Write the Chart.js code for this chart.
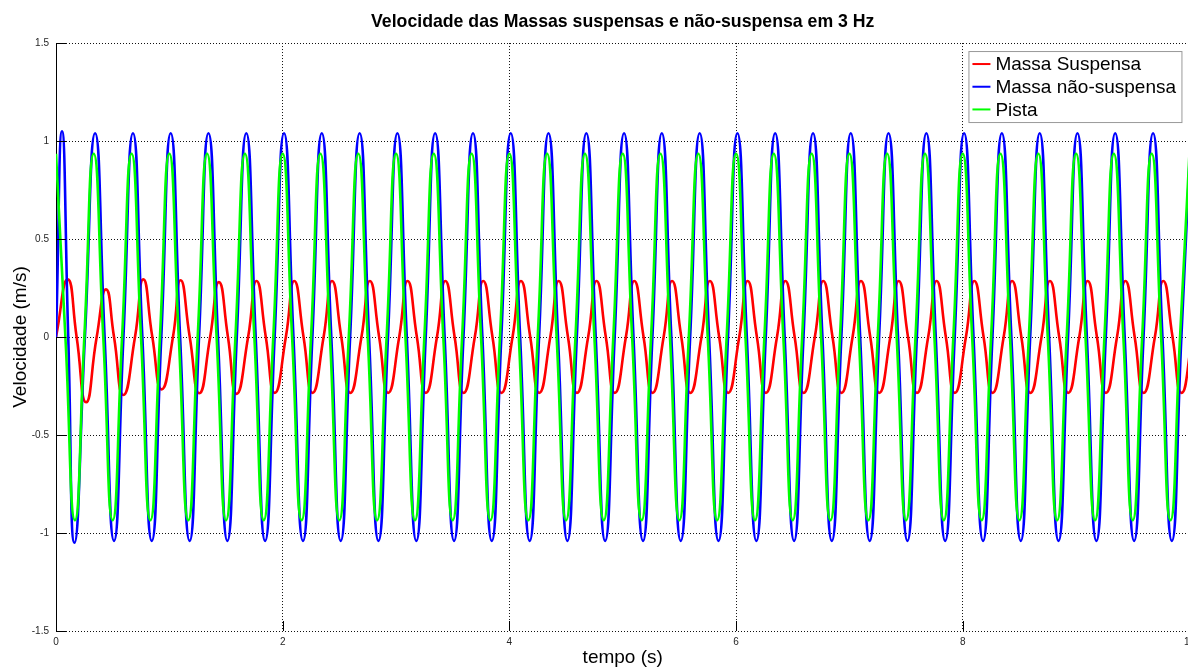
<!DOCTYPE html>
<html lang="pt">
<head>
  <meta charset="UTF-8" />
  <title>Velocidade das Massas</title>
  <script src="https://cdn.jsdelivr.net/npm/chart.js"></script>
  <style>
    html, body { margin: 0; padding: 0; background: #fff; overflow: hidden; }
  </style>
</head>
<body>
<canvas id="chart" width="1200" height="669"></canvas>

<script>
  // tempo (s) e velocidade (m/s): picos, vales e cruzamentos por zero
  const pistaT = [
    0, 0.083, 0.167, 0.25, 0.333, 0.417, 0.5, 0.583, 0.667, 0.75, 0.833, 0.917,
    1, 1.083, 1.167, 1.25, 1.333, 1.417, 1.5, 1.583, 1.667, 1.75, 1.833, 1.917,
    2, 2.083, 2.167, 2.25, 2.333, 2.417, 2.5, 2.583, 2.667, 2.75, 2.833, 2.917,
    3, 3.083, 3.167, 3.25, 3.333, 3.417, 3.5, 3.583, 3.667, 3.75, 3.833, 3.917,
    4, 4.083, 4.167, 4.25, 4.333, 4.417, 4.5, 4.583, 4.667, 4.75, 4.833, 4.917,
    5, 5.083, 5.167, 5.25, 5.333, 5.417, 5.5, 5.583, 5.667, 5.75, 5.833, 5.917,
    6, 6.083, 6.167, 6.25, 6.333, 6.417, 6.5, 6.583, 6.667, 6.75, 6.833, 6.917,
    7, 7.083, 7.167, 7.25, 7.333, 7.417, 7.5, 7.583, 7.667, 7.75, 7.833, 7.917,
    8, 8.083, 8.167, 8.25, 8.333, 8.417, 8.5, 8.583, 8.667, 8.75, 8.833, 8.917,
    9, 9.083, 9.167, 9.25, 9.333, 9.417, 9.5, 9.583, 9.667, 9.75, 9.833, 9.917,
    10
  ];
  const pistaV = [
    0.935, 0, -0.935, 0, 0.935, 0, -0.935, 0, 0.935, 0, -0.935, 0,
    0.935, 0, -0.935, 0, 0.935, 0, -0.935, 0, 0.935, 0, -0.935, 0,
    0.935, 0, -0.935, 0, 0.935, 0, -0.935, 0, 0.935, 0, -0.935, 0,
    0.935, 0, -0.935, 0, 0.935, 0, -0.935, 0, 0.935, 0, -0.935, 0,
    0.935, 0, -0.935, 0, 0.935, 0, -0.935, 0, 0.935, 0, -0.935, 0,
    0.935, 0, -0.935, 0, 0.935, 0, -0.935, 0, 0.935, 0, -0.935, 0,
    0.935, 0, -0.935, 0, 0.935, 0, -0.935, 0, 0.935, 0, -0.935, 0,
    0.935, 0, -0.935, 0, 0.935, 0, -0.935, 0, 0.935, 0, -0.935, 0,
    0.935, 0, -0.935, 0, 0.935, 0, -0.935, 0, 0.935, 0, -0.935, 0,
    0.935, 0, -0.935, 0, 0.935, 0, -0.935, 0, 0.935, 0, -0.935, 0,
    0.935
  ];

  const naoSuspT = [
    0, 0.053, 0.108, 0.163, 0.255, 0.345, 0.429, 0.512, 0.595, 0.679, 0.762, 0.845, 0.929,
    1.012, 1.095, 1.179, 1.262, 1.345, 1.429, 1.512, 1.595, 1.679, 1.762, 1.845, 1.929,
    2.012, 2.095, 2.179, 2.262, 2.345, 2.429, 2.512, 2.595, 2.679, 2.762, 2.845, 2.929,
    3.012, 3.095, 3.179, 3.262, 3.345, 3.429, 3.512, 3.595, 3.679, 3.762, 3.845, 3.929,
    4.012, 4.095, 4.179, 4.262, 4.345, 4.429, 4.512, 4.595, 4.679, 4.762, 4.845, 4.929,
    5.012, 5.095, 5.179, 5.262, 5.345, 5.429, 5.512, 5.595, 5.679, 5.762, 5.845, 5.929,
    6.012, 6.095, 6.179, 6.262, 6.345, 6.429, 6.512, 6.595, 6.679, 6.762, 6.845, 6.929,
    7.012, 7.095, 7.179, 7.262, 7.345, 7.429, 7.512, 7.595, 7.679, 7.762, 7.845, 7.929,
    8.012, 8.095, 8.179, 8.262, 8.345, 8.429, 8.512, 8.595, 8.679, 8.762, 8.845, 8.929,
    9.012, 9.095, 9.179, 9.262, 9.345, 9.429, 9.512, 9.595, 9.679, 9.762, 9.845, 9.929,
    10.012
  ];
  const naoSuspV = [
    0, 1.05, 0, -1.05, 0, 1.04, 0, -1.04, 0, 1.04, 0, -1.04, 0,
    1.04, 0, -1.04, 0, 1.04, 0, -1.04, 0, 1.04, 0, -1.04, 0,
    1.04, 0, -1.04, 0, 1.04, 0, -1.04, 0, 1.04, 0, -1.04, 0,
    1.04, 0, -1.04, 0, 1.04, 0, -1.04, 0, 1.04, 0, -1.04, 0,
    1.04, 0, -1.04, 0, 1.04, 0, -1.04, 0, 1.04, 0, -1.04, 0,
    1.04, 0, -1.04, 0, 1.04, 0, -1.04, 0, 1.04, 0, -1.04, 0,
    1.04, 0, -1.04, 0, 1.04, 0, -1.04, 0, 1.04, 0, -1.04, 0,
    1.04, 0, -1.04, 0, 1.04, 0, -1.04, 0, 1.04, 0, -1.04, 0,
    1.04, 0, -1.04, 0, 1.04, 0, -1.04, 0, 1.04, 0, -1.04, 0,
    1.04, 0, -1.04, 0, 1.04, 0, -1.04, 0, 1.04, 0, -1.04, 0,
    1.04
  ];

  const suspT = [
    0, 0.103, 0.182, 0.265, 0.359, 0.441, 0.512, 0.594, 0.697, 0.77, 0.85, 0.932,
    1.032, 1.099, 1.18, 1.264, 1.36, 1.437, 1.517, 1.593, 1.695, 1.769, 1.851, 1.93,
    2.028, 2.102, 2.184, 2.263, 2.361, 2.435, 2.517, 2.596, 2.695, 2.769, 2.851, 2.93,
    3.028, 3.102, 3.184, 3.263, 3.361, 3.435, 3.517, 3.596, 3.695, 3.769, 3.851, 3.93,
    4.028, 4.102, 4.184, 4.263, 4.361, 4.435, 4.517, 4.596, 4.695, 4.769, 4.851, 4.93,
    5.028, 5.102, 5.184, 5.263, 5.361, 5.435, 5.517, 5.596, 5.695, 5.769, 5.851, 5.93,
    6.028, 6.102, 6.184, 6.263, 6.361, 6.435, 6.517, 6.596, 6.695, 6.769, 6.851, 6.93,
    7.028, 7.102, 7.184, 7.263, 7.361, 7.435, 7.517, 7.596, 7.695, 7.769, 7.851, 7.93,
    8.028, 8.102, 8.184, 8.263, 8.361, 8.435, 8.517, 8.596, 8.695, 8.769, 8.851, 8.93,
    9.028, 9.102, 9.184, 9.263, 9.361, 9.435, 9.517, 9.596, 9.695, 9.769, 9.851, 9.93,
    10.028
  ];
  const suspV = [
    0, 0.294, 0, -0.333, 0, 0.243, 0, -0.296, 0, 0.294, 0, -0.267,
    0, 0.29, 0, -0.287, 0, 0.28, 0, -0.29, 0, 0.286, 0, -0.285,
    0, 0.286, 0, -0.285, 0, 0.286, 0, -0.285, 0, 0.286, 0, -0.285,
    0, 0.286, 0, -0.285, 0, 0.286, 0, -0.285, 0, 0.286, 0, -0.285,
    0, 0.286, 0, -0.285, 0, 0.286, 0, -0.285, 0, 0.286, 0, -0.285,
    0, 0.286, 0, -0.285, 0, 0.286, 0, -0.285, 0, 0.286, 0, -0.285,
    0, 0.286, 0, -0.285, 0, 0.286, 0, -0.285, 0, 0.286, 0, -0.285,
    0, 0.286, 0, -0.285, 0, 0.286, 0, -0.285, 0, 0.286, 0, -0.285,
    0, 0.286, 0, -0.285, 0, 0.286, 0, -0.285, 0, 0.286, 0, -0.285,
    0, 0.286, 0, -0.285, 0, 0.286, 0, -0.285, 0, 0.286, 0, -0.285,
    0
  ];

  const seriesNames = ['Massa Suspensa', 'Massa não-suspensa', 'Pista'];
  const seriesColors = ['#ff0000', '#0000ff', '#00ff00'];

  const FONT = "'Liberation Sans', Arial, Helvetica, sans-serif";

  function pts(ts, vs) {
    return ts.map((t, i) => ({ x: t, y: vs[i] }));
  }

  // inner tick marks (octave style) + legend box inside the plot
  const decor = {
    id: 'decor',
    afterDatasetsDraw(chart) {
      const ctx = chart.ctx;
      const area = chart.chartArea;
      const xs = chart.scales.x, ys = chart.scales.y;
      ctx.save();
      ctx.strokeStyle = '#000';
      ctx.lineWidth = 1;
      ctx.beginPath();
      ys.ticks.forEach(tk => {
        const y = Math.round(ys.getPixelForValue(tk.value)) + 0.5;
        ctx.moveTo(area.left, y);
        ctx.lineTo(area.left + 10, y);
      });
      xs.ticks.forEach(tk => {
        const x = Math.round(xs.getPixelForValue(tk.value)) + 0.5;
        ctx.moveTo(x, area.bottom);
        ctx.lineTo(x, area.bottom - 10);
      });
      ctx.stroke();

      // legend
      const bw = 213, bh = 71;
      const bx = area.right - 8 - bw, by = area.top + 8;
      ctx.fillStyle = '#fff';
      ctx.fillRect(bx, by, bw, bh);
      ctx.strokeStyle = '#999';
      ctx.strokeRect(bx + 0.5, by + 0.5, bw, bh);
      ctx.font = '19px ' + FONT;
      ctx.textBaseline = 'middle';
      ctx.textAlign = 'left';
      seriesNames.forEach((name, i) => {
        const cy = by + 13 + i * 22.7;
        ctx.strokeStyle = seriesColors[i];
        ctx.lineWidth = 2;
        ctx.beginPath();
        ctx.moveTo(bx + 4, cy);
        ctx.lineTo(bx + 22, cy);
        ctx.stroke();
        ctx.fillStyle = '#000';
        ctx.fillText(name, bx + 27, cy + 1);
      });
      ctx.restore();
    }
  };

  new Chart(document.getElementById('chart'), {
    type: 'line',
    data: {
      datasets: [
        { label: seriesNames[0], data: pts(suspT, suspV), borderColor: seriesColors[0], order: 3 },
        { label: seriesNames[1], data: pts(naoSuspT, naoSuspV), borderColor: seriesColors[1], order: 2 },
        { label: seriesNames[2], data: pts(pistaT, pistaV), borderColor: seriesColors[2], order: 1 }
      ]
    },
    options: {
      responsive: false,
      animation: false,
      layout: { padding: { right: 10 } },
      elements: {
        point: { radius: 0 },
        line: { borderWidth: 2.6, tension: 0.55, fill: false }
      },
      plugins: {
        legend: { display: false },
        tooltip: { enabled: false },
        title: {
          display: true,
          fullSize: false,
          text: 'Velocidade das Massas suspensas e não-suspensa em 3 Hz',
          color: '#000',
          font: { family: FONT, size: 17.7, weight: 'bold', lineHeight: 1.2 },
          padding: { top: 11.4, bottom: 10.4 }
        }
      },
      scales: {
        x: {
          type: 'linear',
          min: 0, max: 10,
          afterFit: s => { s.height = 38; },
          ticks: { stepSize: 2, color: '#262626', font: { family: FONT, size: 10 }, padding: 5, maxRotation: 0,
                   callback: v => String(v) },
          grid: { color: '#111', lineWidth: 1, drawTicks: false },
          border: { display: false, dash: [1, 2] },
          title: { display: true, text: 'tempo (s)', color: '#000', font: { family: FONT, size: 19 }, padding: { top: 0, bottom: 0 } }
        },
        y: {
          min: -1.5, max: 1.5,
          afterFit: s => { s.width = 56; },
          ticks: { stepSize: 0.5, color: '#262626', font: { family: FONT, size: 10 }, padding: 7,
                   callback: v => String(v) },
          grid: { color: '#111', lineWidth: 1, drawTicks: false },
          border: { display: true, color: '#000', width: 1, dash: [1, 2] },
          title: { display: true, text: 'Velocidade (m/s)', color: '#000', font: { family: FONT, size: 19 }, padding: { top: 9, bottom: 0 } }
        }
      }
    },
    plugins: [decor]
  });
</script>
</body>
</html>
